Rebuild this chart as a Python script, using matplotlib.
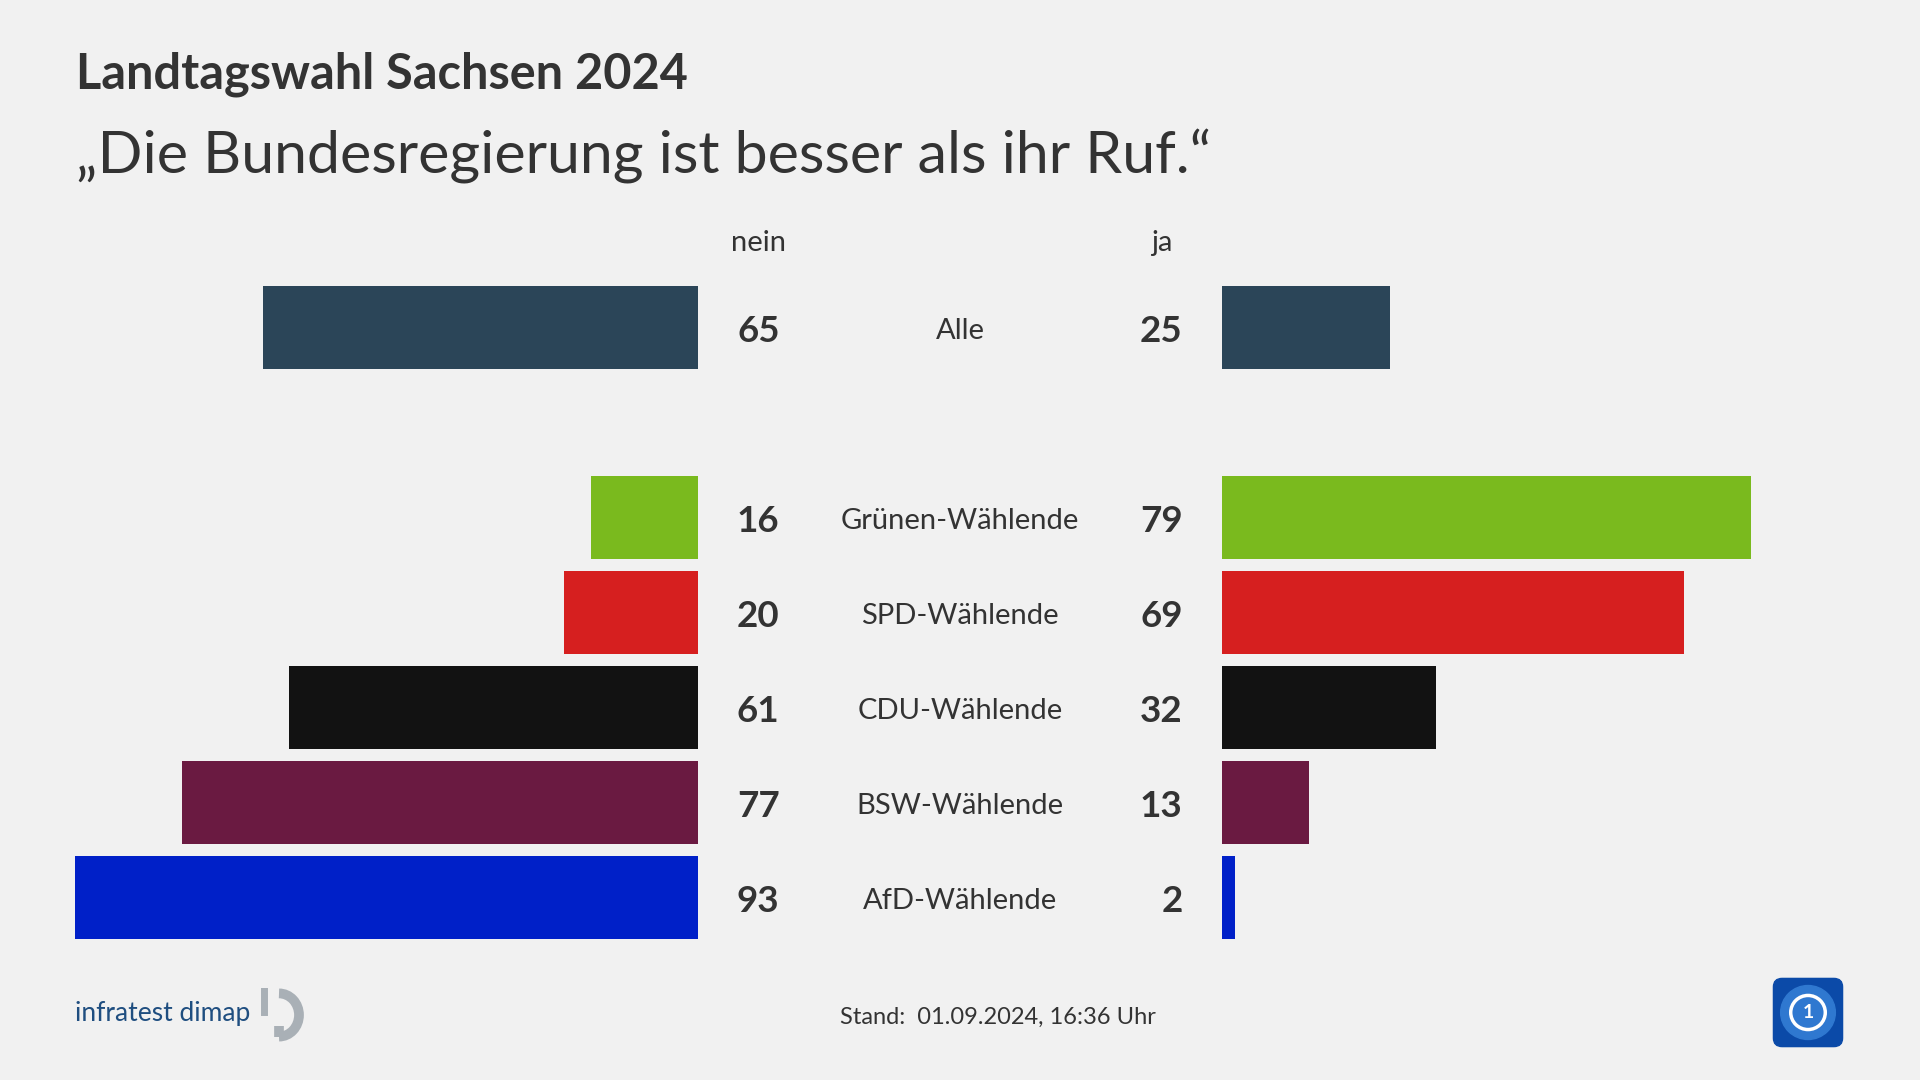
"""Landtagswahl Sachsen 2024 - butterfly bar chart (nein / ja) per voter group."""
import matplotlib

matplotlib.use("Agg")
import matplotlib.pyplot as plt
from matplotlib.patches import FancyBboxPatch, Circle, Arc

plt.rcParams["font.family"] = ["Lato", "DejaVu Sans"]

BG = "#f1f1f1"
TXT = "#333333"

groups = ["Alle", "", "Grünen-Wählende", "SPD-Wählende", "CDU-Wählende",
          "BSW-Wählende", "AfD-Wählende"]
nein = [65, None, 16, 20, 61, 77, 93]
ja = [25, None, 79, 69, 32, 13, 2]
colors = ["#2b4558", None, "#7aba1e", "#d61f1f", "#121212", "#6a1a41", "#0020c8"]

W, H = 1920, 1080
fig = plt.figure(figsize=(W / 100, H / 100), dpi=100, facecolor=BG)


def px_axes(x0, y0, x1, y1):
    # pixel box (top-left origin) -> figure axes
    ax = fig.add_axes([x0 / W, 1 - y1 / H, (x1 - x0) / W, (y1 - y0) / H])
    ax.set_facecolor("none")
    ax.axis("off")
    return ax


top, bottom = 280, 945
ax_l = px_axes(28, top, 698, bottom)
ax_r = px_axes(1222, top, 1892, bottom)
ax_m = px_axes(698, top, 1222, bottom)

rows = [i for i, v in enumerate(nein) if v is not None]
for ax, vals in ((ax_l, nein), (ax_r, ja)):
    ax.barh(rows, [vals[i] for i in rows], height=0.865,
            color=[colors[i] for i in rows])
    ax.set_ylim(6.5, -0.5)
ax_l.set_xlim(100, 0)
ax_r.set_xlim(0, 100)

ax_m.set_xlim(0, 1)
ax_m.set_ylim(6.5, -0.5)
dy = 0.04  # small nudge so glyphs sit centred on the bars
for i in rows:
    ax_m.text(0.115, i + dy, str(nein[i]), ha="center", va="center",
              fontsize=26.5, fontweight="bold", color=TXT)
    ax_m.text(0.5, i + dy, groups[i], ha="center", va="center",
              fontsize=21, color=TXT)
    ax_m.text(0.925, i + dy, str(ja[i]), ha="right", va="center",
              fontsize=26.5, fontweight="bold", color=TXT)
ax_m.text(0.115, -0.89, "nein", ha="center", va="center", fontsize=21, color=TXT)
ax_m.text(0.885, -0.89, "ja", ha="center", va="center", fontsize=21, color=TXT)

# titles
fig.text(76 / W, 1 - 74 / H, "Landtagswahl Sachsen 2024", ha="left", va="center",
         fontsize=35, fontweight="bold", color=TXT)
fig.text(76 / W, 1 - 156 / H, "\u201eDie Bundesregierung ist besser als ihr Ruf.\u201c",
         ha="left", va="center", fontsize=42.5, color=TXT)

# footer
fig.text(998 / W, 1 - 1017 / H, "Stand:  01.09.2024, 16:36 Uhr", ha="center",
         va="center", fontsize=17, color=TXT)
fig.text(75 / W, 1 - 1014 / H, "infratest dimap", ha="left", va="center",
         fontsize=19, color="#1f4e80")

ax_logo = px_axes(258, 988, 308, 1042)
ax_logo.set_xlim(0, 1)
ax_logo.set_ylim(0, 1)
ax_logo.add_patch(Arc((0.42, 0.5), 0.8, 0.8, theta1=-90, theta2=90,
                      lw=7, color="#a9b0b6"))
ax_logo.plot([0.42, 0.42], [0.1, 0.3], lw=7, color="#a9b0b6",
             solid_capstyle="butt")
ax_logo.plot([0.12, 0.12], [0.55, 0.98], lw=5, color="#a9b0b6")

ax_ard = px_axes(1772, 977, 1844, 1048)
ax_ard.set_xlim(0, 1)
ax_ard.set_ylim(0, 1)
ax_ard.add_patch(FancyBboxPatch((0.02, 0.02), 0.96, 0.96,
                                boxstyle="round,pad=0,rounding_size=0.12",
                                color="#0b4aa8"))
ax_ard.add_patch(Circle((0.5, 0.5), 0.38, color="#2f78d0"))
ax_ard.add_patch(Circle((0.5, 0.5), 0.24, fill=False, lw=2.5, ec="white"))
ax_ard.text(0.5, 0.5, "1", ha="center", va="center", fontsize=14,
            fontweight="bold", color="white")

fig.savefig("out.png", dpi=100, facecolor=BG)
